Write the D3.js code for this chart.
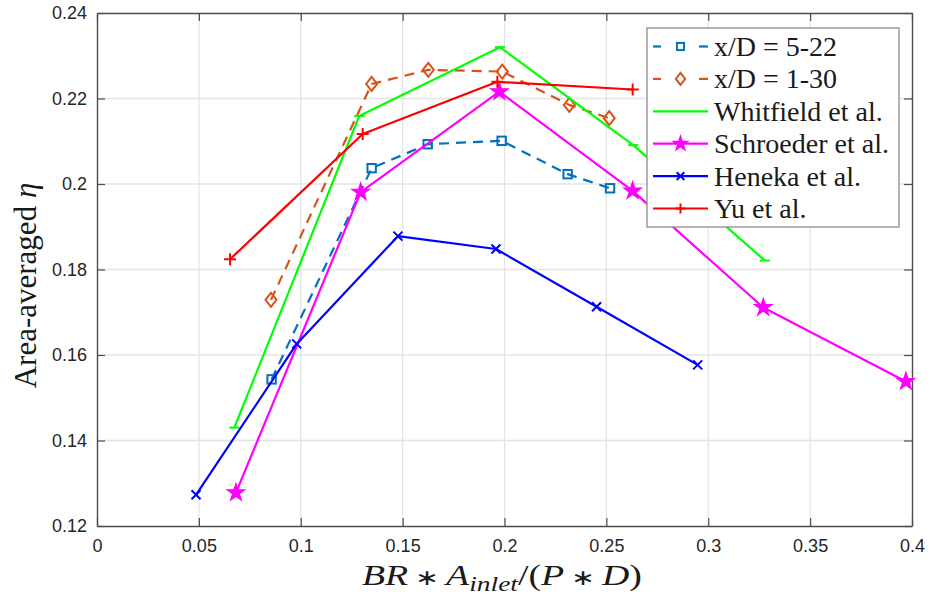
<!DOCTYPE html>
<html><head><meta charset="utf-8">
<script src="https://cdn.jsdelivr.net/npm/d3@7"></script>
<style>body{margin:0;background:#fff}svg{display:block}</style>
</head><body>
<script>
// ---- data ----
const xTicks = [0, 0.05, 0.1, 0.15, 0.2, 0.25, 0.3, 0.35, 0.4];
const xTickLabels = ["0", "0.05", "0.1", "0.15", "0.2", "0.25", "0.3", "0.35", "0.4"];
const yTicks = [0.12, 0.14, 0.16, 0.18, 0.2, 0.22, 0.24];
const yTickLabels = ["0.12", "0.14", "0.16", "0.18", "0.2", "0.22", "0.24"];

const seriesNames = ["x/D = 5-22", "x/D = 1-30", "Whitfield et al.", "Schroeder et al.", "Heneka et al.", "Yu et al."];

const xd522X = [0.0857, 0.1348, 0.1623, 0.1986, 0.2310, 0.2518];
const xd522Y = [0.1543, 0.2037, 0.2093, 0.2101, 0.2023, 0.1990];

const xd130X = [0.0854, 0.1348, 0.1626, 0.1989, 0.2318, 0.2514];
const xd130Y = [0.1729, 0.2234, 0.2267, 0.2263, 0.2185, 0.2154];

const whitX = [0.0674, 0.1287, 0.1978, 0.2632, 0.3278];
const whitY = [0.1430, 0.2159, 0.2320, 0.2091, 0.1821];

const schrX = [0.0682, 0.1294, 0.1975, 0.2629, 0.3270, 0.3970];
const schrY = [0.1278, 0.1981, 0.2216, 0.1984, 0.1711, 0.1538];

const henX = [0.0486, 0.0980, 0.1477, 0.1958, 0.2452, 0.2948];
const henY = [0.1273, 0.1626, 0.1878, 0.1848, 0.1713, 0.1577];

const yuX = [0.0653, 0.1304, 0.1965, 0.2629];
const yuY = [0.1824, 0.2117, 0.2239, 0.2221];

// ---- layout ----
const W = 930, H = 598;
const L = 97, R = 912, T = 13, B = 526;

const svg = d3.select("body").append("svg").attr("width", W).attr("height", H)
  .style("font-family", "'Liberation Sans', Arial, sans-serif");

const x = d3.scaleLinear().domain([0, 0.4]).range([L, R]);
const y = d3.scaleLinear().domain([0.12, 0.24]).range([B, T]);

// grid
const grid = svg.append("g");
grid.selectAll("line.gx").data(xTicks.slice(1, -1)).join("line")
  .attr("x1", d => x(d)).attr("x2", d => x(d)).attr("y1", T).attr("y2", B)
  .attr("stroke", "#e4e4e4").attr("stroke-width", 1.3);
grid.selectAll("line.gy").data(yTicks.slice(1, -1)).join("line")
  .attr("x1", L).attr("x2", R).attr("y1", d => y(d)).attr("y2", d => y(d))
  .attr("stroke", "#e4e4e4").attr("stroke-width", 1.3);

// axes
const axColor = "#4d4d4d";
const xAxisB = d3.axisBottom(x).tickValues(xTicks).tickFormat((d, i) => xTickLabels[i]).tickSizeInner(-8).tickSizeOuter(0).tickPadding(13);
const xAxisT = d3.axisTop(x).tickValues(xTicks).tickFormat("").tickSizeInner(-8).tickSizeOuter(0);
const yAxisL = d3.axisLeft(y).tickValues(yTicks).tickFormat((d, i) => yTickLabels[i]).tickSizeInner(-8).tickSizeOuter(0).tickPadding(10);
const yAxisR = d3.axisRight(y).tickValues(yTicks).tickFormat("").tickSizeInner(-8).tickSizeOuter(0);

function styleAxis(g) {
  g.selectAll("path.domain").attr("stroke", axColor).attr("stroke-width", 1.4);
  g.selectAll(".tick line").attr("stroke", axColor).attr("stroke-width", 1.2);
  g.selectAll(".tick text").attr("fill", "#262626").style("font-size", "18px")
    .style("font-family", "'Liberation Sans', Arial, sans-serif");
}
svg.append("g").attr("transform", `translate(0,${B})`).call(xAxisB).call(styleAxis);
svg.append("g").attr("transform", `translate(0,${T})`).call(xAxisT).call(styleAxis);
svg.append("g").attr("transform", `translate(${L},0)`).call(yAxisL).call(styleAxis);
svg.append("g").attr("transform", `translate(${R},0)`).call(yAxisR).call(styleAxis);

// markers
function drawMarker(g, type, color, cx, cy, small) {
  const s = small ? 0.85 : 1;
  if (type === "square") {
    const h = 4.2 * s;
    g.append("rect").attr("x", cx - h).attr("y", cy - h).attr("width", 2 * h).attr("height", 2 * h)
      .attr("fill", "none").attr("stroke", color).attr("stroke-width", 2);
  } else if (type === "diamond") {
    const hw = 5.5 * s, hh = 7 * s;
    g.append("path").attr("d", `M${cx},${cy - hh}L${cx + hw},${cy}L${cx},${cy + hh}L${cx - hw},${cy}Z`)
      .attr("fill", "none").attr("stroke", color).attr("stroke-width", 2);
  } else if (type === "star") {
    g.append("path").attr("transform", `translate(${cx},${cy})`)
      .attr("d", d3.symbol(d3.symbolStar, 95 * s * s)())
      .attr("fill", color).attr("stroke", color).attr("stroke-width", 1.2);
  } else if (type === "x") {
    const h = 4.5 * s;
    g.append("path").attr("d", `M${cx - h},${cy - h}L${cx + h},${cy + h}M${cx - h},${cy + h}L${cx + h},${cy - h}`)
      .attr("stroke", color).attr("stroke-width", 2);
  } else if (type === "plus") {
    const h = 6 * s;
    g.append("path").attr("d", `M${cx - h},${cy}L${cx + h},${cy}M${cx},${cy - h}L${cx},${cy + h}`)
      .attr("stroke", color).attr("stroke-width", 2);
  } else if (type === "dash") {
    const h = 5 * s;
    g.append("path").attr("d", `M${cx - h},${cy}L${cx + h},${cy}`)
      .attr("stroke", color).attr("stroke-width", 2);
  }
}

const series = [
  { name: seriesNames[0], xs: xd522X, ys: xd522Y, color: "#0072BD", dash: "10,7", marker: "square" },
  { name: seriesNames[1], xs: xd130X, ys: xd130Y, color: "#D95319", dash: "10,7", marker: "diamond" },
  { name: seriesNames[2], xs: whitX, ys: whitY, color: "#00FF00", dash: null, marker: "dash" },
  { name: seriesNames[3], xs: schrX, ys: schrY, color: "#FF00FF", dash: null, marker: "star" },
  { name: seriesNames[4], xs: henX, ys: henY, color: "#0000FF", dash: null, marker: "x" },
  { name: seriesNames[5], xs: yuX, ys: yuY, color: "#FF0000", dash: null, marker: "plus" }
];

const line = d3.line().x(d => x(d[0])).y(d => y(d[1]));
const plot = svg.append("g");
series.forEach(s => {
  const pts = s.xs.map((v, i) => [v, s.ys[i]]);
  const g = plot.append("g");
  g.append("path").attr("d", line(pts)).attr("fill", "none").attr("stroke", s.color)
    .attr("stroke-width", 2.2).attr("stroke-dasharray", s.dash).attr("stroke-linejoin", "round");
  pts.forEach(p => drawMarker(g, s.marker, s.color, x(p[0]), y(p[1]), false));
});

// legend
const lg = svg.append("g");
const lx0 = 647, ly0 = 28, lw = 252, lh = 199;
lg.append("rect").attr("x", lx0).attr("y", ly0).attr("width", lw).attr("height", lh)
  .attr("fill", "#fff").attr("stroke", "#8c8c8c").attr("stroke-width", 1.3);
series.forEach((s, i) => {
  const cy = 46.5 + i * 32.4;
  if (s.dash) {
    lg.append("line").attr("x1", 653).attr("x2", 661).attr("y1", cy).attr("y2", cy)
      .attr("stroke", s.color).attr("stroke-width", 2.2);
    lg.append("line").attr("x1", 699).attr("x2", 708).attr("y1", cy).attr("y2", cy)
      .attr("stroke", s.color).attr("stroke-width", 2.2);
  } else {
    lg.append("line").attr("x1", 653).attr("x2", 708).attr("y1", cy).attr("y2", cy)
      .attr("stroke", s.color).attr("stroke-width", 2.2);
  }
  if (s.marker !== "dash") drawMarker(lg, s.marker, s.color, 680.5, cy, true);
  lg.append("text").attr("x", 714).attr("y", cy + 9.5).text(s.name)
    .attr("fill", "#1a1a1a").style("font-family", "'Liberation Serif', 'Times New Roman', serif")
    .style("font-size", "28px");
});

// axis labels
const xl = svg.append("text").attr("x", 362).attr("y", 585)
  .attr("textLength", 280).attr("lengthAdjust", "spacingAndGlyphs")
  .style("font-family", "'Liberation Serif', 'Times New Roman', serif").style("font-size", "29px").attr("fill", "#1a1a1a");
xl.append("tspan").style("font-style", "italic").text("BR");
xl.append("tspan").style("font-size", "22px").text(" \u2217 ");
xl.append("tspan").style("font-style", "italic").text("A");
xl.append("tspan").style("font-style", "italic").style("font-size", "21px").attr("dy", 6).text("inlet");
xl.append("tspan").attr("dy", -6).text("/(");
xl.append("tspan").style("font-style", "italic").text("P");
xl.append("tspan").style("font-size", "22px").text(" \u2217 ");
xl.append("tspan").style("font-style", "italic").text("D");
xl.append("tspan").text(")");

const yl = svg.append("text").attr("transform", `translate(36,${(T + B) / 2 + 16}) rotate(-90)`).attr("text-anchor", "middle")
  .style("font-family", "'Liberation Serif', 'Times New Roman', serif").style("font-size", "31px").attr("fill", "#1a1a1a");
yl.append("tspan").text("Area-averaged ");
yl.append("tspan").style("font-style", "italic").text("\u03B7");
</script>
</body></html>
